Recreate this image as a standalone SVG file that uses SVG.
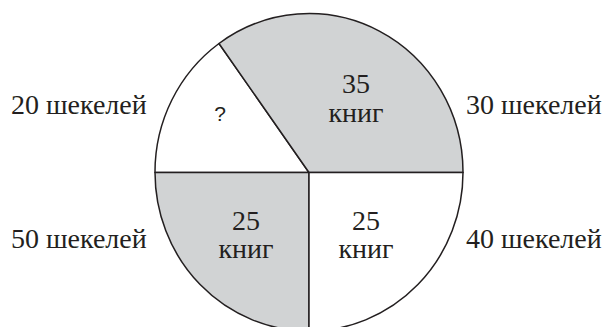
<svg xmlns="http://www.w3.org/2000/svg" width="605" height="327" viewBox="0 0 605 327">
<style>
.seg{stroke:#231f20;stroke-width:1.5;stroke-linejoin:round}
.g{fill:#d1d3d4}
.w{fill:#ffffff}
.t{font-family:'Liberation Serif','DejaVu Serif',serif;fill:#231f20;font-size:28px}
.c{text-anchor:middle}
.q{font-family:'Liberation Sans','DejaVu Sans',sans-serif;fill:#231f20;font-size:21px;text-anchor:middle}
</style>
<rect width="605" height="327" fill="#ffffff"/>
<g id="slice-top-left">
<path class="seg w" d="M309,172.5 L219,43.5 A154,158.5 0 0 0 155,172.5 Z"/>
<text class="q" x="220" y="121">?</text>
</g>
<g id="slice-top-right">
<path class="seg g" d="M309,172.5 L219,43.5 A154,158.5 0 0 1 463,172.5 Z"/>
<text class="t c" x="356" y="93">35</text>
<text class="t c" x="356" y="122">книг</text>
</g>
<g id="slice-bottom-left">
<path class="seg g" d="M309,172.5 L155,172.5 A154,158.5 0 0 0 309,331 Z"/>
<text class="t c" x="246" y="230">25</text>
<text class="t c" x="246" y="258">книг</text>
</g>
<g id="slice-bottom-right">
<path class="seg w" d="M309,172.5 L309,331 A154,158.5 0 0 0 463,172.5 Z"/>
<text class="t c" x="366" y="230">25</text>
<text class="t c" x="366" y="258">книг</text>
</g>
<g id="labels">
<text class="t" x="11" y="114">20 шекелей</text>
<text class="t" x="466" y="114">30 шекелей</text>
<text class="t" x="11" y="248">50 шекелей</text>
<text class="t" x="466" y="248">40 шекелей</text>
</g>
</svg>
